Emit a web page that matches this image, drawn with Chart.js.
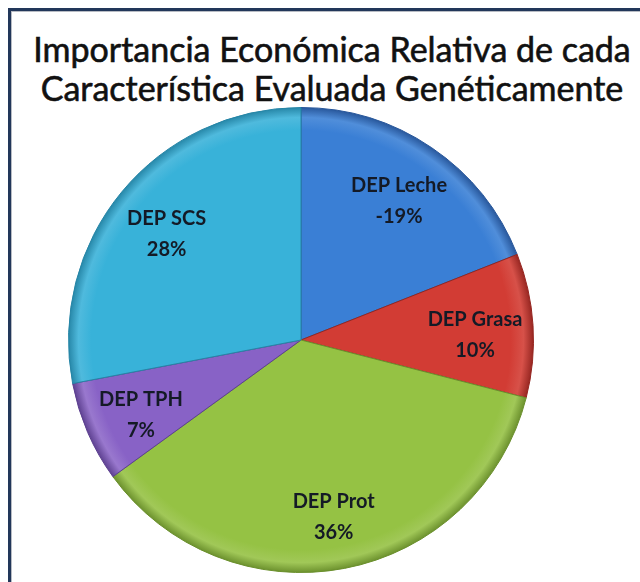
<!DOCTYPE html>
<html>
<head>
<meta charset="utf-8">
<script src="https://cdn.jsdelivr.net/npm/chart.js@4"></script>
<style>
  html, body { margin: 0; padding: 0; background: #fff; overflow: hidden; }
  body { width: 640px; height: 582px; position: relative; }
  #frame {
    position: absolute; left: 8px; top: 8px; width: 700px; height: 700px;
    border-left: 3px solid #22375a; border-top: 3px solid #22375a;
    box-shadow: inset 1px 1px 0 #b8bcc4;
  }
  #title {
    position: absolute; left: 0; width: 664px; top: 29px;
    text-align: center; font-family: Lato, "Open Sans", sans-serif;
    font-size: 34px; line-height: 39px; color: #111;
    -webkit-text-stroke: 0.6px #111; white-space: nowrap;
  }
  #wrap { position: absolute; left: 0; top: 0; width: 640px; height: 582px; }
</style>
</head>
<body>
<div id="frame"></div>
<div id="title">Importancia Económica Relativa de cada<br>Característica Evaluada Genéticamente</div>
<div id="wrap"><canvas id="myChart"></canvas></div>
<script>
const categories = ['DEP Leche', 'DEP Grasa', 'DEP Prot', 'DEP TPH', 'DEP SCS'];
const values = [-19, 10, 36, 7, 28];

let sliceColor = ['#3a7fd5', '#d23c34', '#95c244', '#8862c6', '#38b2d9'];
let edgeColor = ['#27569a', '#952520', '#6a8f2c', '#5c3f8f', '#2585a6'];

function pieGradient(context) {
  const chart = context.chart;
  const area = chart.chartArea;
  if (!area) return sliceColor[context.dataIndex];
  const cx = (area.left + area.right) / 2;
  const cy = (area.top + area.bottom) / 2;
  const r = Math.min(area.right - area.left, area.bottom - area.top) / 2;
  const g = chart.ctx.createRadialGradient(cx, cy, 0, cx, cy, r);
  const c = sliceColor[context.dataIndex];
  g.addColorStop(0, c);
  g.addColorStop(0.9, c);
  g.addColorStop(0.955, Chart.helpers.color(c).lighten(0.1).rgbString());
  g.addColorStop(1, edgeColor[context.dataIndex]);
  return g;
}

// labels inside the slices: name and percent
const sliceLabels = {
  id: 'sliceLabels',
  afterDatasetsDraw(chart) {
    const ctx = chart.ctx;
    const meta = chart.getDatasetMeta(0);
    ctx.save();
    ctx.textAlign = 'center';
    ctx.textBaseline = 'middle';
    ctx.fillStyle = '#141a26';
    ctx.font = 'bold 20px Lato, "Open Sans", sans-serif';
    meta.data.forEach((arc, i) => {
      const p = arc.getProps(['x', 'y', 'startAngle', 'endAngle', 'outerRadius'], true);
      const mid = (p.startAngle + p.endAngle) / 2;
      const d = p.outerRadius * 0.75;
      const x = p.x + Math.cos(mid) * d;
      const y = p.y + Math.sin(mid) * d + 5;
      ctx.fillText(categories[i], x, y - 15);
      ctx.fillText(values[i] + '%', x, y + 16);
    });
    ctx.restore();
  }
};

let config = {
  type: 'pie',
  data: {
    labels: categories,
    datasets: [{
      data: values,
      backgroundColor: pieGradient,
      borderColor: edgeColor,
      borderWidth: 1,
    }],
  },
  options: {
    responsive: true,
    maintainAspectRatio: false,
    animation: false,
    layout: {
      padding: { left: 68, top: 107, right: 106, bottom: 9 }
    },
    plugins: {
      legend: { display: false },
      tooltip: { enabled: false },
    }
  },
  plugins: [sliceLabels]
};

const ctx = document.getElementById('myChart').getContext('2d');
const myChart = new Chart(ctx, config);
</script>
</body>
</html>
